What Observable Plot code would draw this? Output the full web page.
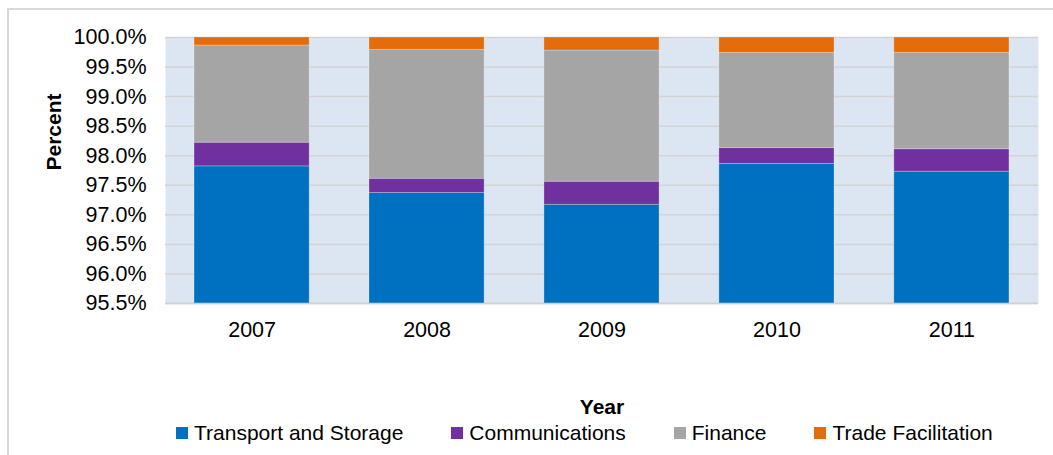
<!DOCTYPE html>
<html>
<head>
<meta charset="utf-8">
<script src="https://cdn.jsdelivr.net/npm/d3@7"></script>
<script src="https://cdn.jsdelivr.net/npm/@observablehq/plot@0.6"></script>
<style>
  html, body { margin: 0; padding: 0; background: white; }
  #wrap { position: relative; width: 1053px; height: 455px; overflow: hidden; font-family: "Liberation Sans", Arial, sans-serif; }
  #border { position: absolute; left: 7px; top: 8px; width: 1200px; height: 600px; border: 2px solid #d9d9d9; box-sizing: border-box; }
  #chart { position: relative; }
  #legend { display: flex; align-items: center; height: 26px; padding-left: 176px; font-size: 21px; color: #000; white-space: nowrap; }
  .item { display: flex; align-items: center; margin-right: 48px; }
  .sw { width: 12px; height: 12px; margin-right: 6px; flex: none; }
</style>
</head>
<body>
<div id="wrap">
  <div id="border"></div>
  <div id="chart"></div>
</div>
<script>
const years = ["2007", "2008", "2009", "2010", "2011"];
const series = ["Transport and Storage", "Communications", "Finance", "Trade Facilitation"];
const colors = ["#0070c0", "#7030a0", "#a5a5a5", "#e46c0a"];
const transport = [97.82, 97.37, 97.17, 97.86, 97.73];
const communications = [0.40, 0.24, 0.39, 0.27, 0.38];
const finance = [1.645, 2.18, 2.22, 1.61, 1.63];
const trade = [0.135, 0.21, 0.22, 0.26, 0.26];
const yTicks = [95.5, 96.0, 96.5, 97.0, 97.5, 98.0, 98.5, 99.0, 99.5, 100.0];

const valuesBySeries = [transport, communications, finance, trade];
const rows = [];
years.forEach((y, i) => {
  series.forEach((s, j) => {
    rows.push({year: y, series: s, order: j, value: valuesBySeries[j][i]});
  });
});

const plot = Plot.plot({
  width: 1053,
  height: 420,
  marginTop: 37,
  marginBottom: 117,
  marginLeft: 165,
  marginRight: 15,
  style: {fontFamily: "\"Liberation Sans\", Arial, sans-serif", fontSize: "21px", color: "#000", background: "transparent", overflow: "visible"},
  x: {domain: years, paddingInner: 0.342, paddingOuter: 0.166, round: false, label: null},
  y: {domain: [95.5, 100], label: null},
  color: {domain: series, range: colors},
  marks: [
    Plot.frame({fill: "#dce6f2", stroke: null}),
    Plot.gridY(yTicks, {stroke: "#d4d4d4", strokeOpacity: 1, strokeWidth: 1.5}),
    Plot.barY(rows, Plot.stackY({
      x: "year", y: "value", fill: "series", order: "order",
      stroke: "white", strokeOpacity: 0.25, strokeWidth: 1, clip: true
    })),
    Plot.ruleY([95.5], {stroke: "#d0d0d0", strokeWidth: 1.5}),
    Plot.axisY(yTicks, {tickFormat: d => d.toFixed(1) + "%", tickSize: 0, tickPadding: 19, label: null, fontSize: 21.5}),
    Plot.axisX({tickSize: 0, tickPadding: 18, label: null, fontSize: 21.5}),
    Plot.text(["Percent"], {frameAnchor: "left", rotate: -90, dx: -111, fontWeight: "bold", fontSize: 21, lineAnchor: "middle"}),
    Plot.text(["Year"], {frameAnchor: "bottom", dy: 104, fontWeight: "bold", fontSize: 21, lineAnchor: "middle"})
  ]
});
document.getElementById("chart").appendChild(plot);

const legend = document.createElement("div");
legend.id = "legend";
series.forEach((s, j) => {
  const item = document.createElement("div");
  item.className = "item";
  const sw = document.createElement("span");
  sw.className = "sw";
  sw.style.background = colors[j];
  const t = document.createElement("span");
  t.textContent = s;
  item.appendChild(sw);
  item.appendChild(t);
  legend.appendChild(item);
});
document.getElementById("chart").appendChild(legend);
</script>
</body>
</html>
